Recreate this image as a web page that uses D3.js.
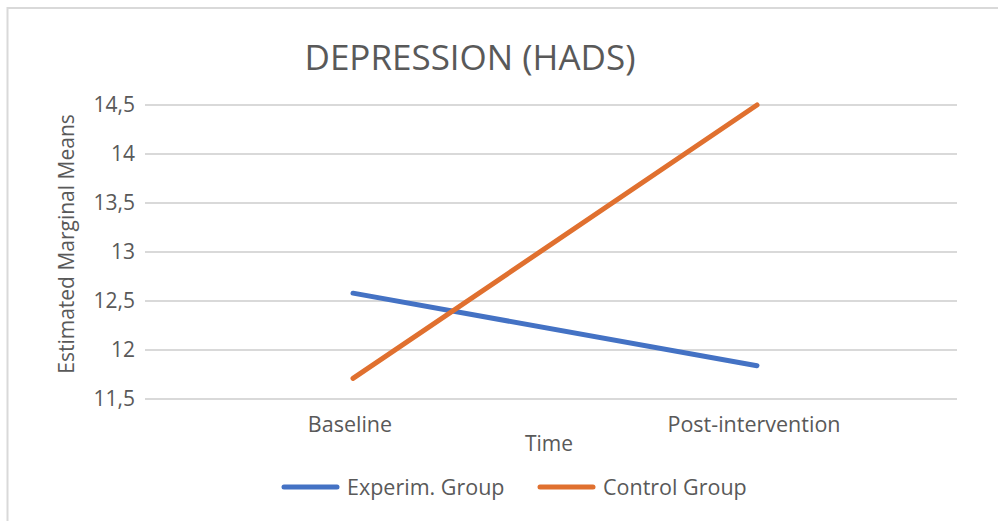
<!DOCTYPE html>
<html><head><meta charset="utf-8">
<script src="https://cdn.jsdelivr.net/npm/d3@7"></script>
<style>html,body{margin:0;padding:0;background:#fff;}svg{display:block;}</style>
</head><body>
<script>
const categories = ["Baseline", "Post-intervention"];
const seriesNames = ["Experim. Group", "Control Group"];
const experimValues = [12.58, 11.84];
const controlValues = [11.71, 14.5];
const yTicks = [11.5, 12, 12.5, 13, 13.5, 14, 14.5];
const title = "DEPRESSION (HADS)";
const xTitle = "Time";
const yTitle = "Estimated Marginal Means";

const W = 998, H = 521;
const font = "'Open Sans', 'Noto Sans', sans-serif";
const textColor = "#595959";
const colors = ["#4472C4", "#E0702F"];
const fs = 21.5;

const svg = d3.select("body").append("svg").attr("width", W).attr("height", H);
svg.append("rect").attr("width", W).attr("height", H).attr("fill", "#fff");
svg.append("rect").attr("x", 7.5).attr("y", 8).attr("width", W + 10).attr("height", H + 10)
  .attr("fill", "none").attr("stroke", "#D9D9D9").attr("stroke-width", 2);

const x = d3.scaleBand().domain(categories).range([151, 959]);
const y = d3.scaleLinear().domain([11.5, 14.5]).range([399, 105]);
const gridX0 = 145, gridX1 = 957;

svg.append("g").selectAll("line").data(yTicks).join("line")
  .attr("x1", gridX0).attr("x2", gridX1)
  .attr("y1", d => y(d)).attr("y2", d => y(d))
  .attr("stroke", "#D9D9D9").attr("stroke-width", 2);

const fmt = d => String(d).replace(".", ",");
svg.append("g").selectAll("text").data(yTicks).join("text")
  .attr("x", 135).attr("y", d => y(d)).attr("dy", "0.35em")
  .attr("text-anchor", "end").attr("font-family", font).attr("font-size", fs - 0.5)
  .attr("fill", textColor).text(fmt);

svg.append("g").selectAll("text").data(categories).join("text")
  .attr("x", d => x(d) + x.bandwidth() / 2 - 3).attr("y", 432)
  .attr("text-anchor", "middle").attr("font-family", font).attr("font-size", fs)
  .attr("fill", textColor).text(d => d);

svg.append("text").attr("x", 549).attr("y", 451).attr("text-anchor", "middle")
  .attr("font-family", font).attr("font-size", fs - 0.5).attr("fill", textColor).text(xTitle);
svg.append("text").attr("transform", "translate(74,244) rotate(-90)").attr("text-anchor", "middle")
  .attr("font-family", font).attr("font-size", fs - 0.5).attr("fill", textColor).text(yTitle);

svg.append("text").attr("x", 470).attr("y", 70).attr("text-anchor", "middle")
  .attr("font-family", font).attr("font-size", 35).attr("fill", textColor).text(title);

const series = [experimValues, controlValues];
const line = d3.line().x((d, i) => x(categories[i]) + x.bandwidth() / 2).y(d => y(d));
svg.append("g").selectAll("path").data(series).join("path")
  .attr("d", d => line(d)).attr("fill", "none")
  .attr("stroke", (d, i) => colors[i]).attr("stroke-width", 5)
  .attr("stroke-linecap", "round").attr("stroke-linejoin", "round");

const legendItems = [{x: 284, name: seriesNames[0], c: colors[0]}, {x: 540, name: seriesNames[1], c: colors[1]}];
const lg = svg.append("g").selectAll("g").data(legendItems).join("g");
lg.append("line").attr("x1", d => d.x).attr("x2", d => d.x + 53).attr("y1", 487).attr("y2", 487)
  .attr("stroke", d => d.c).attr("stroke-width", 5).attr("stroke-linecap", "round");
lg.append("text").attr("x", d => d.x + 63).attr("y", 487).attr("dy", "0.35em")
  .attr("font-family", font).attr("font-size", fs).attr("fill", textColor).text(d => d.name);
</script>
</body></html>
